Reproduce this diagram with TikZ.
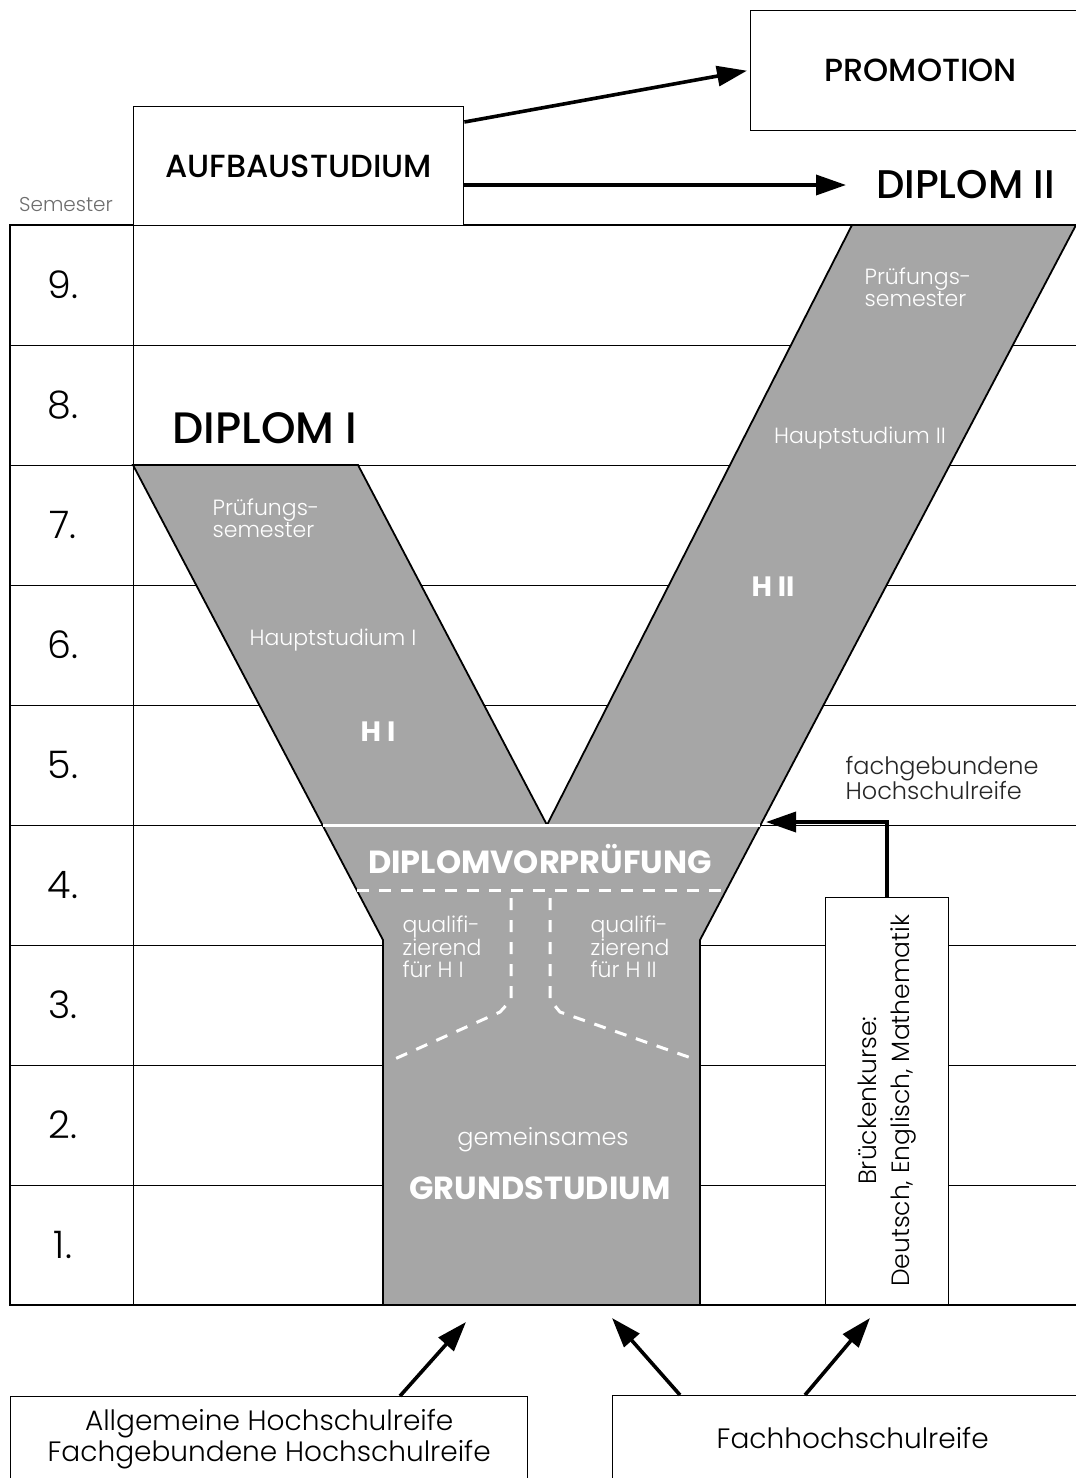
\documentclass[tikz,border=0pt]{standalone}
\usepackage{fontspec}
\setmainfont{Poppins}
\newfontfamily\duenn{Poppins Light}
\newfontfamily\mittel{Poppins Medium}
\usetikzlibrary{arrows.meta,positioning}
\definecolor{ygray}{RGB}{166,166,166}
\definecolor{semgray}{RGB}{110,110,110}
\tikzset{
  box/.style={draw,line width=1.4pt,fill=white,inner sep=0pt},
  pfeil/.style={line width=3.6pt,-{Triangle[length=30pt,width=20pt]}},
  weiss/.style={text=white,align=left,inner sep=0pt,font=\duenn\fontsize{22}{22}\selectfont},
  weissbf/.style={text=white,inner sep=0pt,font=\bfseries\fontsize{32}{34}\selectfont},
  gitter/.style={line width=1pt},
  rand/.style={line width=2pt},
  strich/.style={white,line width=3pt,dash pattern=on 12pt off 10pt}
}
\begin{document}
\begin{tikzpicture}[x=1pt,y=-1pt]
\useasboundingbox[fill=white] (0,0) rectangle (1076,1478);

% Semesterraster
\foreach \n in {1,...,8}
  \draw[gitter] (10,225+120*\n) -- (1076,225+120*\n);
\foreach \n in {1,...,9}
  \node[font=\duenn\fontsize{38}{40}\selectfont] (sem\n) at (63,1365-120*\n) {\n.};
\node[text=semgray,font=\duenn\fontsize{20}{22}\selectfont] (semester) at (66,205) {Semester};

% das Y
\draw[fill=ygray,line width=1.8pt,line join=miter]
  (133,465) -- (358,465) -- (547,825) -- (852,225) -- (1076,225)
  -- (700,940) -- (700,1305) -- (383,1305) -- (383,940) -- cycle;
\draw[white,line width=3pt] (323,825) -- (760,825);
\draw[strich] (357,890) -- (727,890);
\draw[strich] (511,898) -- (511,1000) -- (500,1012) -- (388,1062);
\draw[strich] (550,898) -- (550,1000) -- (560,1012) -- (697,1060);

% Texte im Y
\node[weissbf] (dvp) at (540,859) {DIPLOMVORPRÜFUNG};
\node[weiss] (quali1) at (442,947) {qualifi-\\zierend\\für H I};
\node[weiss] (quali2) at (630,947) {qualifi-\\zierend\\für H II};
\node[weiss,font=\duenn\fontsize{24}{26}\selectfont] (gemein) at (543,1140) {gemeinsames};
\node[weissbf] (grund) at (540,1188) {GRUNDSTUDIUM};
\node[weiss] (pruef1) at (266,518) {Prüfungs-\\semester};
\node[weiss] (haupt1) at (333,640) {Hauptstudium I};
\node[weissbf,font=\bfseries\fontsize{28}{30}\selectfont] (h1) at (378,732) {H I};
\node[weiss] (pruef2) at (918,287) {Prüfungs-\\semester};
\node[weiss] (haupt2) at (860,438) {Hauptstudium II};
\node[weissbf,font=\bfseries\fontsize{28}{30}\selectfont] (h2) at (773,587) {H II};

% Tabellenrand
\draw[rand] (1090,225) -- (10,225) -- (10,1305) -- (1090,1305);
\draw[gitter] (133,225) -- (133,1305);

% Kästen
\node[box,minimum width=330,minimum height=119,anchor=north west,font=\mittel\fontsize{32}{34}\selectfont] (aufbau) at (133,106) {AUFBAUSTUDIUM};
\node[box,minimum width=340,minimum height=120,anchor=north west,font=\mittel\fontsize{32}{34}\selectfont] (promo) at (750,10) {PROMOTION};
\node[anchor=west,inner sep=0pt,font=\mittel\fontsize{40}{42}\selectfont] (dzwei) at (876,185) {DIPLOM II};
\node[font=\mittel\fontsize{44}{46}\selectfont] (deins) at (265,428) {DIPLOM I};
\node[box,minimum width=123,minimum height=407,anchor=south west] (bruecke) at (825,1305) {};
\node[rotate=90,align=center,font=\duenn\fontsize{25}{33}\selectfont] (bktext) at (bruecke.center) {Brückenkurse:\\Deutsch, Englisch, Mathematik};
\node[align=left,text=black!85,font=\duenn\fontsize{24}{25}\selectfont] (fachgeb) at (942,778) {fachgebundene\\Hochschulreife};
\node[box,minimum width=517,minimum height=84,anchor=north west,align=center,font=\duenn\fontsize{28}{31}\selectfont] (allg) at (10,1396) {Allgemeine Hochschulreife\\Fachgebundene Hochschulreife};
\node[box,minimum width=480,minimum height=84,anchor=north west,font=\duenn\fontsize{28}{31}\selectfont] (fhr) at (612,1395) {Fachhochschulreife};

% Pfeile
\coordinate (vorR) at (766,822);
\coordinate (ziel1) at (466,1322);
\coordinate (ziel2) at (612,1318);
\coordinate (ziel3) at (870,1318);
\draw[pfeil] ([yshift=-16pt]aufbau.north east) -- ([xshift=-3pt]promo.west);
\draw[pfeil] (aufbau.east |- dzwei.west) -- ([xshift=-30pt]dzwei.west);
\draw[pfeil] (bruecke.north) |- (vorR);
\draw[pfeil] ([xshift=390pt]allg.north west) -- (ziel1);
\draw[pfeil] ([xshift=68pt]fhr.north west) -- (ziel2);
\draw[pfeil] ([xshift=193pt]fhr.north west) -- (ziel3);
\end{tikzpicture}
\end{document}
